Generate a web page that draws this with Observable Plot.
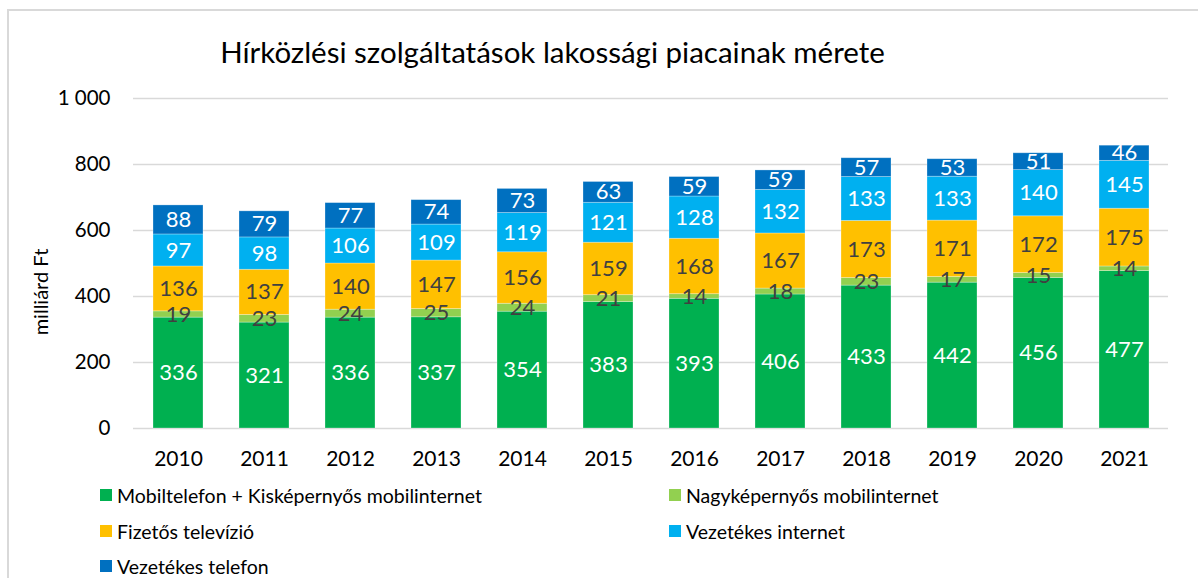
<!DOCTYPE html>
<html>
<head>
<meta charset="utf-8">
<script src="https://cdn.jsdelivr.net/npm/d3@7"></script>
<script src="https://cdn.jsdelivr.net/npm/@observablehq/plot@0.6"></script>
<style>
  body { margin: 0; background: #fff; font-family: Lato, "Noto Sans", sans-serif; }
  #wrap { position: relative; width: 1198px; height: 578px; overflow: hidden; }
  #frame { position: absolute; left: 7px; top: 9px; width: 1300px; height: 700px; border-left: 2px solid #d9d9d9; border-top: 2px solid #d9d9d9; }
  #title { position: absolute; left: 0; width: 1105px; top: 34px; text-align: center; font-size: 29.5px; color: #000; white-space: nowrap; }
  #ylabel { position: absolute; left: 40px; top: 292px; transform: translate(-50%, -50%) rotate(-90deg); font-size: 20px; white-space: nowrap; color: #000; }
  #chart { position: absolute; left: 0; top: 0; }
  .leg { position: absolute; font-size: 19.5px; white-space: nowrap; color: #000; display: flex; align-items: center; }
  .leg span.sw { display: inline-block; width: 12px; height: 12px; margin-right: 5px; }
</style>
</head>
<body>
<div id="wrap">
  <div id="frame"></div>
  <div id="chart"></div>
  <div id="title">Hírközlési szolgáltatások lakossági piacainak mérete</div>
  <div id="ylabel">milliárd Ft</div>
  <div id="legend"></div>
</div>
<script>
const years = ["2010","2011","2012","2013","2014","2015","2016","2017","2018","2019","2020","2021"];
const seriesNames = [
  "Mobiltelefon + Kisképernyős mobilinternet",
  "Nagyképernyős mobilinternet",
  "Fizetős televízió",
  "Vezetékes internet",
  "Vezetékes telefon"
];
const seriesColors = ["#00B050", "#92D050", "#FFC000", "#00B0F0", "#0070C0"];
const labelColors = ["#ffffff", "#404040", "#404040", "#ffffff", "#ffffff"];
const mobil      = [336, 321, 336, 337, 354, 383, 393, 406, 433, 442, 456, 477];
const nagykep    = [19, 23, 24, 25, 24, 21, 14, 18, 23, 17, 15, 14];
const fizetosTv  = [136, 137, 140, 147, 156, 159, 168, 167, 173, 171, 172, 175];
const vezInternet= [97, 98, 106, 109, 119, 121, 128, 132, 133, 133, 140, 145];
const vezTelefon = [88, 79, 77, 74, 73, 63, 59, 59, 57, 53, 51, 46];
const yTicks = [0, 200, 400, 600, 800, 1000];
const yTickLabels = ["0", "200", "400", "600", "800", "1 000"];

const seriesValues = [mobil, nagykep, fizetosTv, vezInternet, vezTelefon];
const data = [];
years.forEach((yr, i) => {
  seriesNames.forEach((s, k) => {
    data.push({year: yr, series: s, value: seriesValues[k][i], k});
  });
});

const plot = Plot.plot({
  width: 1198,
  height: 480,
  marginTop: 98,
  marginBottom: 52,
  marginLeft: 133,
  marginRight: 30,
  style: {fontFamily: "Lato, 'Noto Sans', sans-serif", fontSize: "20px", color: "#000", background: "transparent"},
  x: {domain: years, paddingInner: 0.42, paddingOuter: 0.21, label: null},
  y: {domain: [0, 1000], label: null},
  color: {domain: seriesNames, range: seriesColors},
  marks: [
    Plot.ruleY(yTicks, {stroke: "#d9d9d9", strokeWidth: 1.3}),
    Plot.barY(data, {x: "year", y: "value", fill: "series", z: "series", stroke: "#ffffff", strokeOpacity: 0.35, strokeWidth: 0.8}),
    Plot.text(data, Plot.stackY({x: "year", y: "value", z: "series",
      text: d => labelColors[d.k] === "#ffffff" ? String(d.value) : null,
      fill: "#ffffff", fontSize: 22})),
    Plot.text(data, Plot.stackY({x: "year", y: "value", z: "series",
      text: d => labelColors[d.k] !== "#ffffff" ? String(d.value) : null,
      fill: "#404040", fontSize: 22})),
    Plot.axisY({ticks: yTicks, tickFormat: d => yTickLabels[yTicks.indexOf(d)], tickSize: 0, tickPadding: 23, label: null, fontSize: 20.5}),
    Plot.axisX({tickSize: 0, tickPadding: 23, label: null, fontSize: 21})
  ]
});
document.getElementById("chart").appendChild(plot);

const legendPos = [
  {left: 100, top: 495}, {left: 669, top: 495},
  {left: 100, top: 531}, {left: 669, top: 531},
  {left: 100, top: 566}
];
const leg = document.getElementById("legend");
seriesNames.forEach((s, k) => {
  const el = document.createElement("div");
  el.className = "leg";
  el.style.left = legendPos[k].left + "px";
  el.style.top = (legendPos[k].top - 13) + "px";
  el.style.height = "26px";
  el.innerHTML = `<span class="sw" style="background:${seriesColors[k]}"></span>${s}`;
  leg.appendChild(el);
});
</script>
</body>
</html>
